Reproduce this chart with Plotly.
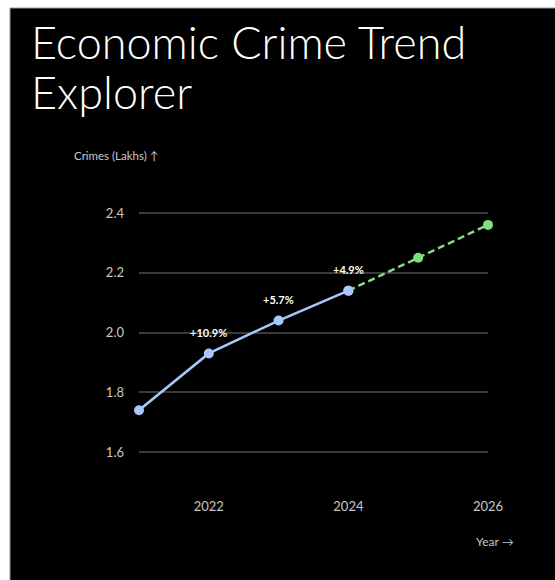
import plotly.graph_objects as go

# ---- data ----
years_actual = [2021, 2022, 2023, 2024]
crimes_actual = [1.74, 1.93, 2.04, 2.14]
years_forecast = [2024, 2025, 2026]
crimes_forecast = [2.14, 2.25, 2.36]
growth_labels = ["+10.9%", "+5.7%", "+4.9%"]
growth_years = [2022, 2023, 2024]
growth_values = [1.93, 2.04, 2.14]
y_ticks = [1.6, 1.8, 2.0, 2.2, 2.4]
x_ticks = [2022, 2024, 2026]
title_lines = ["Economic Crime Trend", "Explorer"]

W, H = 555, 580
L, R, T, B = 139, 67, 198, 113
PW, PH = W - L - R, H - T - B


def px(xp):
    return (xp - L) / PW


def py(yp):
    return 1 - (yp - T) / PH


FONT = "Lato"
fig = go.Figure()

fig.add_trace(go.Scatter(
    x=years_forecast, y=crimes_forecast, mode="lines+markers",
    line=dict(color="#86dc86", width=2.5, dash="7px,4px"),
    marker=dict(size=10, color="#7ee07a"),
    hoverinfo="skip", showlegend=False, cliponaxis=False,
))
fig.add_trace(go.Scatter(
    x=years_actual, y=crimes_actual, mode="lines+markers",
    line=dict(color="#a8c7fa", width=2.5),
    marker=dict(size=10, color="#a8c7fa"),
    hoverinfo="skip", showlegend=False, cliponaxis=False,
))

for yr, val, lab in zip(growth_years, growth_values, growth_labels):
    fig.add_annotation(x=yr, y=val, text=f"<b>{lab}</b>", showarrow=False,
                       yshift=21, font=dict(family=FONT, size=11, color="#ffffff"))

# black panel on white page
fig.add_shape(type="rect", xref="paper", yref="paper",
              x0=px(10), x1=px(W + 5), y0=py(H + 5), y1=py(8),
              fillcolor="#000000", line=dict(color="#9a9a9a", width=1),
              layer="below")

for i, line in enumerate(title_lines):
    fig.add_annotation(xref="paper", yref="paper", x=px(29), y=py(13 + 50 * i),
                       xanchor="left", yanchor="top", align="left", showarrow=False,
                       text=line,
                       font=dict(family=FONT, size=45, color="#ffffff", weight=300))
fig.add_annotation(xref="paper", yref="paper", x=px(72), y=py(155),
                   xanchor="left", yanchor="middle", showarrow=False,
                   text="Crimes (Lakhs) ↑",
                   font=dict(family=FONT, size=11.5, color="#c8c8c8"))
fig.add_annotation(xref="paper", yref="paper", x=px(516), y=py(541),
                   xanchor="right", yanchor="middle", showarrow=False,
                   text="Year →",
                   font=dict(family=FONT, size=12, color="#c8c8c8"))

fig.update_layout(
    width=W, height=H,
    margin=dict(l=L, r=R, t=T, b=B),
    paper_bgcolor="#ffffff",
    plot_bgcolor="rgba(0,0,0,0)",
    xaxis=dict(range=[2021, 2026], tickvals=x_ticks, ticktext=[str(v) for v in x_ticks],
               showgrid=False, zeroline=False, showline=False,
               tickfont=dict(family=FONT, size=13, color="#c8c8c8"),
               ticklabelstandoff=30),
    yaxis=dict(range=[1.55, 2.45], tickvals=y_ticks, ticktext=[f"{v:.1f}" for v in y_ticks],
               showgrid=True, gridcolor="#3a3a3a", gridwidth=2, zeroline=False,
               showline=False,
               tickfont=dict(family=FONT, size=13, color="#c8c8c8"),
               ticklabelstandoff=14),
)

fig.write_html("out.html")
